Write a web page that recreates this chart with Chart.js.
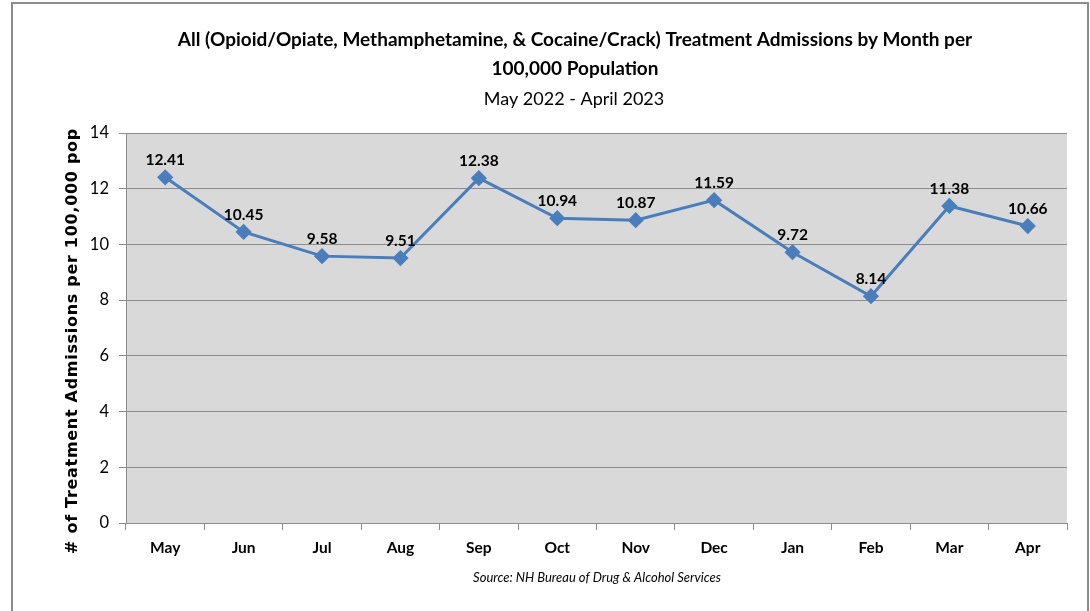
<!DOCTYPE html>
<html>
<head>
<meta charset="utf-8">
<script src="https://cdn.jsdelivr.net/npm/chart.js@4.4.1/dist/chart.umd.min.js"></script>
<style>
  html, body { margin: 0; padding: 0; background: #fff; }
  #wrap { position: relative; width: 1090px; height: 611px; }
  #frame { position: absolute; left: 11px; top: 2px; width: 1078px; height: 620px; border: 2px solid #8c8c8c; box-sizing: border-box; }
  canvas { position: absolute; left: 0; top: 0; }
</style>
</head>
<body>
<div id="wrap">
  <div id="frame"></div>
  <canvas id="grafico" width="1090" height="611"></canvas>
</div>
<script>
// dados
const meses = ['May', 'Jun', 'Jul', 'Aug', 'Sep', 'Oct', 'Nov', 'Dec', 'Jan', 'Feb', 'Mar', 'Apr'];
const admissoes = [12.41, 10.45, 9.58, 9.51, 12.38, 10.94, 10.87, 11.59, 9.72, 8.14, 11.38, 10.66];
const titulo = ['All (Opioid/Opiate, Methamphetamine, & Cocaine/Crack) Treatment Admissions by Month per', '100,000 Population'];
const subtitulo = 'May 2022 - April 2023';
const fonte = 'Source: NH Bureau of Drug & Alcohol Services';
const tituloEixoY = '# of Treatment Admissions per 100,000 pop';

const FONTE_BASE = 'Lato, "Open Sans", sans-serif';

// fundo cinza da área do gráfico
const fundoArea = {
    id: 'fundoArea',
    beforeDraw(chart) {
        const { ctx, chartArea: a } = chart;
        ctx.save();
        ctx.fillStyle = '#d9d9d9';
        ctx.fillRect(a.left, a.top, a.right - a.left, a.bottom - a.top);
        ctx.restore();
    }
};

// rótulos dos pontos e textos fixos (títulos e fonte)
const textos = {
    id: 'textos',
    afterDatasetsDraw(chart) {
        const ctx = chart.ctx;
        const meta = chart.getDatasetMeta(0);
        ctx.save();
        ctx.fillStyle = '#000';
        ctx.textAlign = 'center';
        ctx.textBaseline = 'middle';
        ctx.font = 'bold 15.5px ' + FONTE_BASE;
        meta.data.forEach((pt, i) => {
            ctx.fillText(admissoes[i].toFixed(2), pt.x, pt.y - 17);
        });
        ctx.restore();
    },
    afterDraw(chart) {
        const ctx = chart.ctx;
        ctx.save();
        ctx.fillStyle = '#000';
        ctx.textAlign = 'center';
        ctx.textBaseline = 'middle';
        ctx.font = 'bold 19px ' + FONTE_BASE;
        ctx.fillText(titulo[0], 575, 40);
        ctx.fillText(titulo[1], 575, 69);
        ctx.font = '18px ' + FONTE_BASE;
        ctx.fillText(subtitulo, 574, 99);
        ctx.font = 'italic 13px ' + FONTE_BASE;
        ctx.fillText(fonte, 597, 578);
        // título do eixo Y
        ctx.translate(73, 341);
        ctx.rotate(-Math.PI / 2);
        ctx.font = 'bold 16px "DejaVu Sans", sans-serif';
        ctx.letterSpacing = '0.7px';
        ctx.fillText(tituloEixoY, 0, 0);
        ctx.restore();
    }
};

const ctx = document.getElementById('grafico').getContext('2d');
const meuGrafico = new Chart(ctx, {
    type: 'line',
    data: {
        labels: meses,
        datasets: [{
            data: admissoes,
            borderColor: '#4a7ebb',
            backgroundColor: '#4a7ebb',
            borderWidth: 3,
            pointStyle: 'rectRot',
            pointRadius: 6,
            pointHoverRadius: 6,
            tension: 0,
            fill: false
        }]
    },
    options: {
        responsive: false,
        animation: false,
        layout: { padding: { top: 133, right: 23, bottom: 0, left: 0 } },
        scales: {
            x: {
                offset: true,
                grid: {
                    offset: true,
                    drawOnChartArea: false,
                    color: '#8c8c8c',
                    tickLength: 7
                },
                border: { color: '#8c8c8c' },
                ticks: {
                    color: '#000',
                    padding: 9,
                    font: { family: FONTE_BASE, size: 15.5, weight: 'bold' }
                },
                afterFit(scale) { scale.height = 88; }
            },
            y: {
                min: 0,
                max: 14,
                ticks: {
                    stepSize: 2,
                    color: '#000',
                    padding: 10,
                    font: { family: FONTE_BASE, size: 16.5 }
                },
                grid: { color: '#8c8c8c', tickLength: 7 },
                border: { color: '#8c8c8c' },
                afterFit(scale) { scale.width = 126; }
            }
        },
        plugins: {
            legend: { display: false },
            tooltip: { enabled: false }
        }
    },
    plugins: [fundoArea, textos]
});
</script>
</body>
</html>
